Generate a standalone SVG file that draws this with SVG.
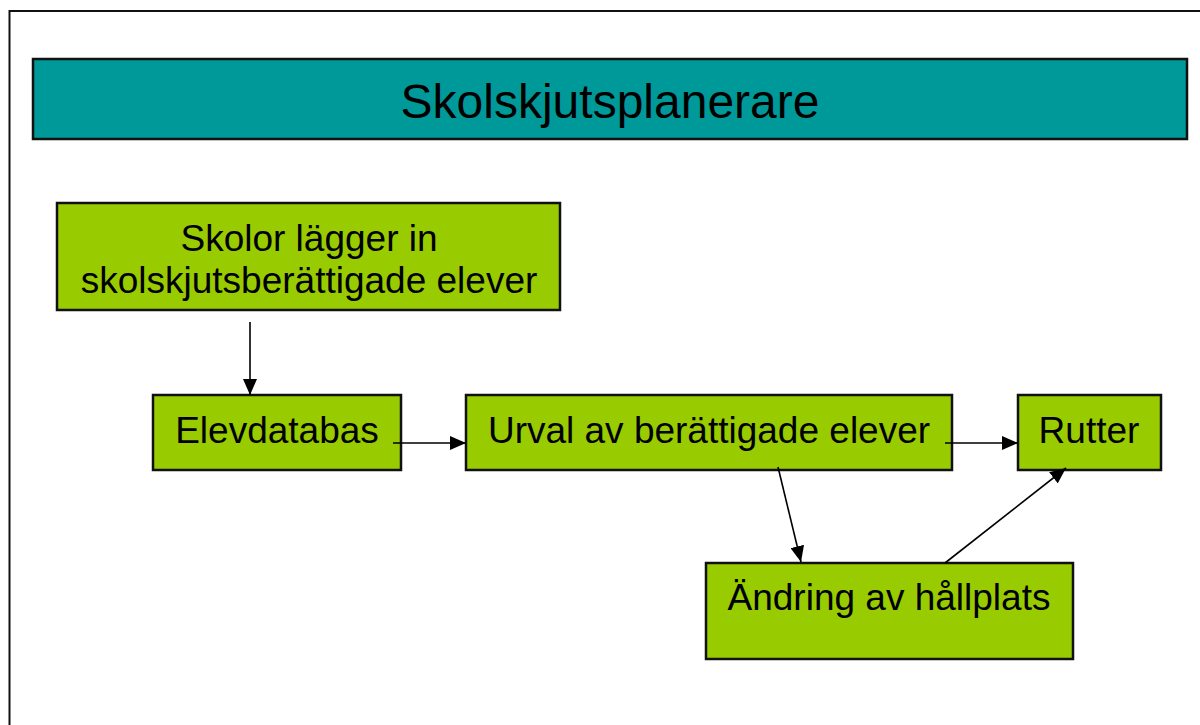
<svg xmlns="http://www.w3.org/2000/svg" width="1200" height="725" viewBox="0 0 1200 725">
<defs>
<style>
.frame{fill:#fff;stroke:#111;stroke-width:2}
.box{fill:#99cc00;stroke:#111;stroke-width:2.5}
.title{fill:#009999;stroke:#111;stroke-width:2.5}
text{font-family:"Liberation Sans",Arial,sans-serif;fill:#000;text-anchor:middle}
.t{font-size:37px}
.tt{font-size:48px}
.c{stroke:#000;stroke-width:1.6;fill:none;marker-end:url(#ah)}
</style>
<marker id="ah" viewBox="0 0 16 14" refX="16" refY="7" markerWidth="16" markerHeight="14" markerUnits="userSpaceOnUse" orient="auto">
<path d="M0,0 L16,7 L0,14 z" fill="#000"/>
</marker>
</defs>
<rect x="0" y="0" width="1200" height="725" fill="#fff"/>
<rect class="frame" x="9.5" y="11" width="1200" height="730"/>
<g id="title">
<rect class="title" x="33" y="59" width="1154" height="80"/>
<text class="tt" x="610" y="118">Skolskjutsplanerare</text>
</g>
<g id="n-skolor">
<rect class="box" x="57" y="203" width="503" height="107"/>
<text class="t" x="309" y="251">Skolor lägger in</text>
<text class="t" x="309" y="293">skolskjutsberättigade elever</text>
</g>
<g id="n-elevdatabas">
<rect class="box" x="153" y="395" width="248" height="75"/>
<text class="t" x="277" y="443">Elevdatabas</text>
</g>
<g id="n-urval">
<rect class="box" x="466" y="395" width="486" height="75"/>
<text class="t" x="709" y="443">Urval av berättigade elever</text>
</g>
<g id="n-rutter">
<rect class="box" x="1018" y="395" width="143" height="75"/>
<text class="t" x="1089" y="443">Rutter</text>
</g>
<g id="n-andring">
<rect class="box" x="706" y="563" width="367" height="96"/>
<text class="t" x="889" y="610">Ändring av hållplats</text>
</g>
<g id="connectors">
<line class="c" x1="250" y1="322" x2="250" y2="395"/>
<line class="c" x1="393" y1="443" x2="466" y2="443"/>
<line class="c" x1="945" y1="443" x2="1018" y2="443"/>
<line class="c" x1="778" y1="467" x2="801" y2="562"/>
<line class="c" x1="945" y1="563" x2="1066" y2="468"/>
</g>
</svg>
